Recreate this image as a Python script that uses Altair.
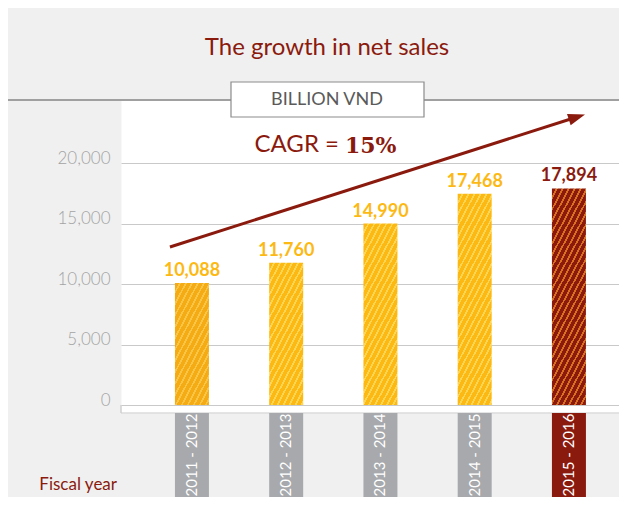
import math
import altair as alt
import pandas as pd

# ---- data ----
years = ["2011 - 2012", "2012 - 2013", "2013 - 2014", "2014 - 2015", "2015 - 2016"]
sales = [10088, 11760, 14990, 17468, 17894]
tick_values = [0, 5000, 10000, 15000, 20000]
title_text = "The growth in net sales"
unit_text = "BILLION VND"
cagr_label = "CAGR ="
cagr_value = "15%"
xaxis_label = "Fiscal year"
# trend arrow (annotation), start / end levels
arrow_start_val = [13060]
arrow_end_val = [23800]

RED = "#8b1a0e"
YELLOW = "#fdb913"
GRAY_BOX = "#a7a9ac"
FONT = "Lato"

W, H = 498, 313
YMIN, YMAX = -661, 25207
PX_PER_UNIT = H / (YMAX - YMIN)
BAR_W = 34

df = pd.DataFrame({"year": years, "sales": sales})
xs = alt.Scale(domain=years, paddingInner=0, paddingOuter=0.142, align=0.89)
ys = alt.Scale(domain=[YMIN, YMAX], nice=False, zero=False)
X = alt.X("year:N", scale=xs, axis=None)
Y_AXIS = alt.Axis(
    values=tick_values, labelExpr="format(datum.value, ',.0f')", title=None,
    domain=False, ticks=False,
    tickSize=0, labelPadding=11, labelFontSize=17, labelColor="#a3a3a3",
    labelFont=FONT, labelFontWeight=300, labelBaseline="alphabetic",
    grid=True, gridColor="#c9c9c9", gridWidth=1.2,
)

base_colors = ["#f5ab13", YELLOW, YELLOW, YELLOW, "#8c1a0c"]
stripe_colors = ["#f9c546", "#ffd552", "#ffd552", "#ffd552", "#d8701f"]


def hatch(h, base, stripe, w=BAR_W, period=6.0, frac=0.32, slope=1.9):
    k = h / (slope * w)
    dx = (1 + k) / (1 + k * k)
    dy = k * dx
    n_f = w * (1 + k) / period
    n = int(math.ceil(n_f))
    stops = []
    for i in range(n):
        s0 = i / n_f
        s1 = (i + 1 - frac) / n_f
        s2 = (i + 1) / n_f
        if s0 > 1:
            break
        stops.append(alt.GradientStop(offset=min(s0, 1), color=base))
        stops.append(alt.GradientStop(offset=min(s1, 1), color=base))
        if s1 < 1:
            stops.append(alt.GradientStop(offset=min(s1, 1), color=stripe))
            stops.append(alt.GradientStop(offset=min(s2, 1), color=stripe))
    return alt.LinearGradient(gradient="linear", stops=stops, x1=0, y1=0, x2=dx, y2=dy)


layers = []

# bars (one layer each so each gets its own hatching)
for i, (yr, v) in enumerate(zip(years, sales)):
    h = v * PX_PER_UNIT
    layers.append(
        alt.Chart(df)
        .transform_filter(alt.datum.year == yr)
        .mark_bar(width=BAR_W, fill=hatch(h, base_colors[i], stripe_colors[i]))
        .encode(x=X, y=alt.Y("sales:Q", scale=ys, axis=Y_AXIS), y2=alt.datum(0))
    )

# value labels
layers.append(
    alt.Chart(df)
    .mark_text(font=FONT, fontWeight="bold", fontSize=18, baseline="alphabetic", dy=-7)
    .encode(
        x=X,
        y=alt.Y("sales:Q", scale=ys, axis=Y_AXIS),
        text=alt.Text("sales:Q", format=",.0f"),
        color=alt.condition(alt.datum.year == years[-1], alt.value(RED), alt.value(YELLOW)),
    )
)

one = pd.DataFrame({"k": [0]})

# bottom frame of the white area
layers.append(
    alt.Chart(one).mark_rule(color="#c9c9c9", strokeWidth=1.2)
    .encode(x=alt.value(0), x2=alt.value(W), y=alt.value(H))
)
layers.append(
    alt.Chart(one).mark_rule(color="#c9c9c9", strokeWidth=1.2)
    .encode(x=alt.value(0), y=alt.value(H - 8), y2=alt.value(H))
)

# category label boxes
layers.append(
    alt.Chart(df).mark_bar(width=BAR_W)
    .encode(
        x=X, y=alt.value(H), y2=alt.value(H + 84),
        color=alt.condition(alt.datum.year == years[-1], alt.value(RED), alt.value(GRAY_BOX)),
    )
)
layers.append(
    alt.Chart(df).mark_text(angle=270, font=FONT, fontSize=15, color="white", baseline="middle")
    .encode(x=X, y=alt.value(H + 42), text="year:N")
)

# top separator line and unit box
layers.append(
    alt.Chart(one).mark_rule(color="#a0a0a0", strokeWidth=2)
    .encode(x=alt.value(-113), x2=alt.value(W), y=alt.value(0))
)
layers.append(
    alt.Chart(one).mark_rect(fill="white", stroke="#8c8c8c", strokeWidth=1.2)
    .encode(x=alt.value(110), x2=alt.value(303), y=alt.value(-18), y2=alt.value(17))
)
layers.append(
    alt.Chart(pd.DataFrame({"t": [unit_text]}))
    .mark_text(font=FONT, fontSize=18, color="#5a5a5a", baseline="middle")
    .encode(text="t:N", x=alt.value(206), y=alt.value(0))
)

# title
layers.append(
    alt.Chart(pd.DataFrame({"t": [title_text]}))
    .mark_text(font=FONT, fontSize=24, color=RED, baseline="middle")
    .encode(text="t:N", x=alt.value(206), y=alt.value(-52))
)

# CAGR
layers.append(
    alt.Chart(pd.DataFrame({"t": [cagr_label]}))
    .mark_text(font=FONT, fontSize=24, color=RED, baseline="middle", align="right")
    .encode(text="t:N", x=alt.value(218), y=alt.value(45))
)
layers.append(
    alt.Chart(pd.DataFrame({"t": [cagr_value]}))
    .mark_text(font="DejaVu Serif", fontWeight="bold", fontSize=22, color=RED,
               baseline="middle", align="left")
    .encode(text="t:N", x=alt.value(224), y=alt.value(46))
)

# trend arrow
arrow_df = pd.DataFrame({
    "s_year": [years[0]], "e_year": [years[-1]],
    "s_val": arrow_start_val, "e_val": arrow_end_val,
})
layers.append(
    alt.Chart(arrow_df).mark_rule(color=RED, strokeWidth=3, xOffset=-22, x2Offset=8)
    .encode(
        x=alt.X("s_year:N", scale=xs, axis=None), x2="e_year:N",
        y=alt.Y("s_val:Q", scale=ys, axis=Y_AXIS), y2="e_val:Q",
    )
)
layers.append(
    alt.Chart(arrow_df)
    .mark_point(shape="M-1,-0.7L1,0L-1,0.7Z", filled=True, size=289, angle=342.2,
                color=RED, opacity=1, xOffset=8)
    .encode(x=alt.X("e_year:N", scale=xs, axis=None), y=alt.Y("e_val:Q", scale=ys, axis=Y_AXIS))
)

# x label
layers.append(
    alt.Chart(pd.DataFrame({"t": [xaxis_label]}))
    .mark_text(font=FONT, fontSize=17, color=RED, baseline="alphabetic", align="right")
    .encode(text="t:N", x=alt.value(-4), y=alt.value(390))
)

chart = (
    alt.layer(*layers)
    .properties(
        width=W, height=H,
        autosize=alt.AutoSizeParams(type="none"),
        padding={"left": 113, "top": 92, "right": 0, "bottom": 84},
        background="#f0f0f0",
    )
    .configure_view(fill="white", stroke="transparent")
)

chart.save("out.html", embed_options={"renderer": "svg", "actions": False})
